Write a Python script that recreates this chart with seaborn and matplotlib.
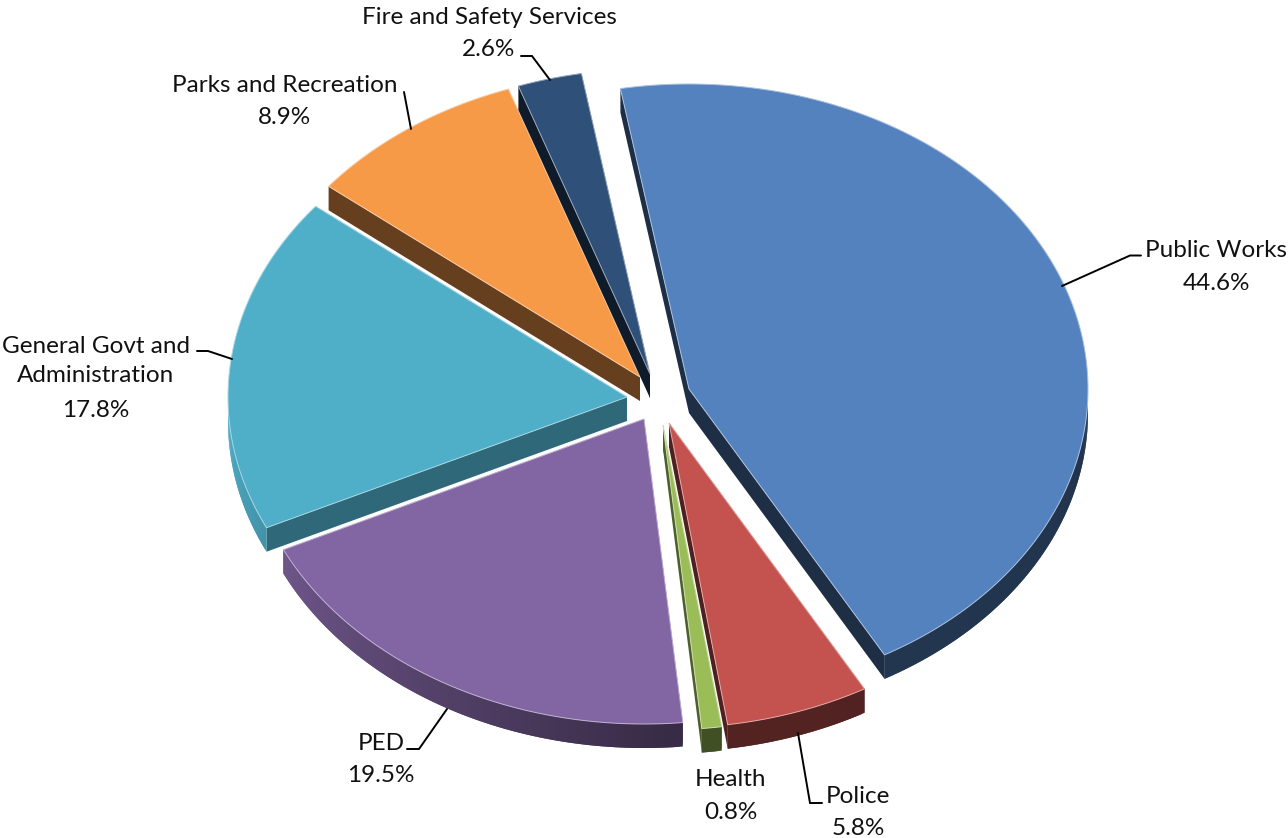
import numpy as np
import matplotlib
matplotlib.use("Agg")
import matplotlib.pyplot as plt
import seaborn as sns

# City budget shares, listed clockwise from the start angle
departments = ["Public Works", "Police", "Health", "PED",
               "General Govt and\nAdministration", "Parks and Recreation",
               "Fire and Safety Services"]
shares = [44.6, 5.8, 0.8, 19.5, 17.8, 8.9, 2.6]
face_hex = ["#5482BF", "#C4534F", "#9ABD58", "#8265A3", "#4FAEC8", "#F79A48", "#2F5079"]
cut_shade = [0.36, 0.40, 0.50, 0.42, 0.60, 0.41, 0.34]

# Canvas position of each exploded slice's tip (pixels)
tips = [(689, 389), (669, 423), (663, 425), (644, 419), (627, 397), (640, 377), (650, 374)]

# Projection of the tilted pie onto the canvas (pixels)
RX, RY = 399.0, 305.0
DEPTH = 24.0
START_DEG = -9.9
TEXT_SIZE = 17.5

# Label anchors: name block centre and value line centre
label_pos = {
    "Public Works": ((1216, 250), (1216, 283)),
    "Police": ((858, 796), (858, 828)),
    "Health": ((731, 779), (731, 812)),
    "PED": ((381, 743), (381, 775)),
    "General Govt and\nAdministration": ((96, 361), (96, 410)),
    "Parks and Recreation": ((285, 85), (285, 117)),
    "Fire and Safety Services": ((489.5, 17), (489, 50)),
}
leaders = [
    [(1062, 286), (1130, 255.5), (1141, 255.5)],
    [(798, 733), (810, 803), (822, 803)],
    [(447, 709), (419, 749), (407, 749)],
    [(232, 359), (208, 351), (197, 351)],
    [(411, 129), (404, 92)],
    [(550, 80), (532, 56), (521, 56)],
]

sns.set_theme(style="white")
plt.rcParams["font.family"] = ["Lato", "DejaVu Sans"]
palette = sns.color_palette(face_hex)

fig = plt.figure(figsize=(12.88, 8.38), dpi=100)
ax = fig.add_axes([0, 0, 1, 1])
ax.set_xlim(0, 1288)
ax.set_ylim(838, 0)
ax.axis("off")


def arc(theta_deg, tip):
    """Clockwise-from-north angles on the pie plane to canvas pixels."""
    t = np.radians(theta_deg)
    return tip[0] + RX * np.sin(t), tip[1] - RY * np.cos(t)


def shaded(rgb, k):
    return tuple(min(1.0, c * k) for c in rgb)


def rim_shade(theta_deg):
    # Rim lit from the left: dark along the front, near face colour at the far left
    return float(np.interp(theta_deg % 360, [0, 175, 270, 360], [0.38, 0.42, 1.0, 1.0]))


edges = START_DEG + np.cumsum([0.0] + [s * 3.6 for s in shares])
draw_order = [4, 5, 6, 0, 3, 2, 1]

for i in draw_order:
    a0, a1 = edges[i], edges[i + 1]
    thetas = np.linspace(a0, a1, max(4, int((a1 - a0) * 2)))
    rx, ry = arc(thetas, tips[i])
    tx, ty = tips[i]
    base = palette[i]

    # Flat cut faces, extruded down from the two radial edges
    c = shaded(base, cut_shade[i])
    for ex, ey in ((rx[0], ry[0]), (rx[-1], ry[-1])):
        ax.fill([tx, ex, ex, tx], [ty, ey, ey + DEPTH, ty + DEPTH],
                fc=c, lw=0, zorder=2 + draw_order.index(i))

    # Curved outer wall: only the front half faces the viewer; strips overlap
    # the next step so no seams show between them
    for j in range(len(thetas) - 1):
        mid = 0.5 * (thetas[j] + thetas[j + 1])
        if np.cos(np.radians(mid)) > 0:
            continue
        k = min(j + 2, len(thetas) - 1)
        c = shaded(base, rim_shade(mid))
        ax.fill([rx[j], rx[k], rx[k], rx[j]],
                [ry[j], ry[k], ry[k] + DEPTH, ry[j] + DEPTH],
                fc=c, lw=0, zorder=2 + draw_order.index(i))

    # Top face with a thin bright bevel
    bevel = tuple(0.5 * c_ + 0.5 for c_ in base)
    ax.fill(np.r_[tx, rx], np.r_[ty, ry], fc=base, ec=bevel, lw=0.7,
            joinstyle="miter", zorder=2 + draw_order.index(i))

for pts in leaders:
    xs, ys = zip(*pts)
    ax.plot(xs, ys, color="black", lw=1.4, solid_joinstyle="miter", zorder=20)

for name, share in zip(departments, shares):
    (nx, ny), (px, py) = label_pos[name]
    ax.text(nx, ny, name, ha="center", va="center", fontsize=TEXT_SIZE, color="#111111",
            linespacing=1.5, zorder=21)
    ax.text(px, py, f"{share:.1f}%", ha="center", va="center", fontsize=TEXT_SIZE,
            color="#111111", zorder=21)

fig.savefig("out.png", dpi=100, facecolor="white")
